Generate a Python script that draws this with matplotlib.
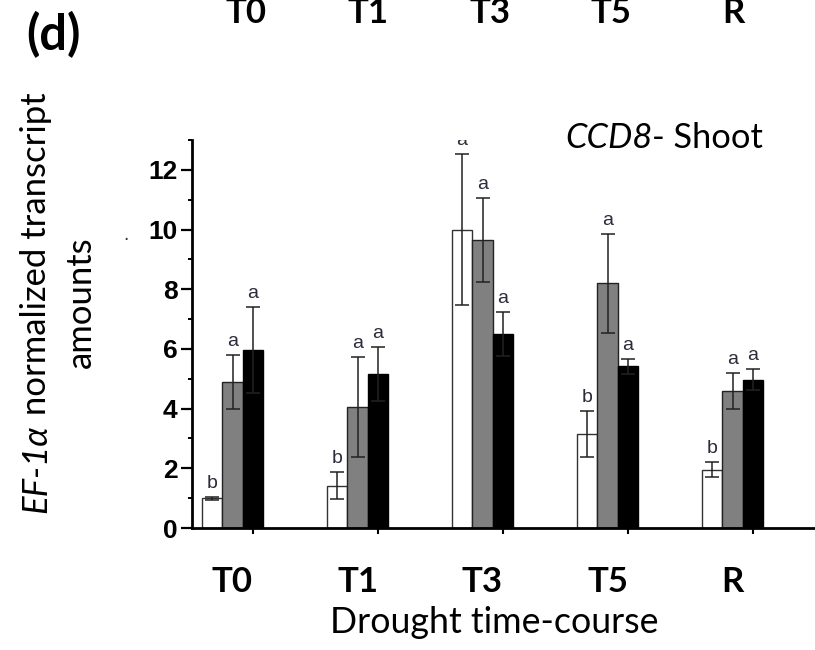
import matplotlib
matplotlib.use("Agg")
import matplotlib.pyplot as plt
from matplotlib.ticker import MultipleLocator, FixedLocator

# ---- data ----
categories = ["T0", "T1", "T3", "T5", "R"]
white_vals = [1.0, 1.42, 10.0, 3.15, 1.95]
white_err = [0.05, 0.45, 2.53, 0.78, 0.25]
gray_vals = [4.9, 4.06, 9.65, 8.2, 4.58]
gray_err = [0.9, 1.67, 1.4, 1.65, 0.6]
black_vals = [5.97, 5.16, 6.5, 5.42, 4.97]
black_err = [1.45, 0.92, 0.75, 0.25, 0.35]
white_letters = ["b", "b", "a", "b", "b"]
gray_letters = ["a", "a", "a", "a", "a"]
black_letters = ["a", "a", "a", "a", "a"]
y_ticks = [0, 2, 4, 6, 8, 10, 12]

W, H = 815, 650
DPI = 100
fig = plt.figure(figsize=(W / DPI, H / DPI), dpi=DPI)
fig.patch.set_facecolor("white")
renderer = fig.canvas.get_renderer()

BODY = "Lato"
NUM = "Liberation Sans"

ax = fig.add_axes([192 / W, 122 / H, (W - 192) / W, 388 / H])
bw = 0.164
xs = list(range(len(categories)))
x_white = [x - 2 * bw for x in xs]
x_gray = [x - bw for x in xs]
x_black = xs

ekw = dict(ecolor="#222222", elinewidth=1.1, capsize=5, capthick=1.1)
ax.bar(x_white, white_vals, bw, color="white", edgecolor="#333333", linewidth=1.0,
       yerr=white_err, error_kw=ekw, zorder=2)
ax.bar(x_gray, gray_vals, bw, color="#808080", edgecolor="#222222", linewidth=1.0,
       yerr=gray_err, error_kw=ekw, zorder=2)
ax.bar(x_black, black_vals, bw, color="black", edgecolor="black", linewidth=1.0,
       yerr=black_err, error_kw=ekw, zorder=2)

lcol = "#2c2c3c"
for xp, v, e, l in [(x_white, white_vals, white_err, white_letters),
                    (x_gray, gray_vals, gray_err, gray_letters),
                    (x_black, black_vals, black_err, black_letters)]:
    for xi, vi, ei, li in zip(xp, v, e, l):
        ax.text(xi, vi + ei + 0.3, li, ha="center", va="baseline", fontsize=14,
                family=NUM, color=lcol, clip_on=True, zorder=3)

ax.set_xlim(-0.488, 4.496)
ax.set_ylim(0, 13)
ax.set_yticks(y_ticks)
ax.yaxis.set_minor_locator(MultipleLocator(1))
ax.set_yticklabels([str(t) for t in y_ticks], fontsize=19, fontweight="bold", family=NUM)
ax.tick_params(axis="y", which="major", direction="out", length=8, width=1.6, pad=2.5)
ax.tick_params(axis="y", which="minor", direction="out", length=3, width=1.4)
ax.set_xticks(x_black)
ax.set_xticklabels([])
ax.tick_params(axis="x", which="major", direction="out", length=4.5, width=1.5)
ax.xaxis.set_minor_locator(FixedLocator(x_gray))
ax.set_xticklabels(categories, minor=True, fontsize=25, fontweight="bold", family=BODY)
ax.tick_params(axis="x", which="minor", length=0, pad=27)
for s in ["top", "right"]:
    ax.spines[s].set_visible(False)
ax.spines["left"].set_linewidth(2.0)
ax.spines["bottom"].set_linewidth(2.0)
ax.set_facecolor("none")


def fit(t, target, vertical=False):
    bb = t.get_window_extent(renderer)
    cur = bb.height if vertical else bb.width
    t.set_fontsize(t.get_fontsize() * target / cur)


# x axis title
t = fig.text(494 / W, 17 / H, "Drought time-course", ha="center", va="baseline",
             family=BODY, fontsize=22)
fit(t, 328)

# title inside panel: CCD8- Shoot
t1 = fig.text(565 / W, 502 / H, "CCD8", ha="left", va="baseline", family=BODY,
              style="italic", fontsize=22)
t2 = fig.text(565 / W, 502 / H, "- Shoot", ha="left", va="baseline", family=BODY, fontsize=22)
w_tot = t1.get_window_extent(renderer).width + t2.get_window_extent(renderer).width
k = 197 / w_tot
t1.set_fontsize(22 * k)
t2.set_fontsize(22 * k)
w1 = t1.get_window_extent(renderer).width
t2.set_x((565 + w1) / W)

# y label, line 1 (mixed italic)
y1 = fig.text(36 / W, 137 / H, "EF-1\u03b1", rotation=90, rotation_mode="anchor",
              ha="left", va="center", family=BODY, style="italic", fontsize=22)
y2 = fig.text(36 / W, 137 / H, " normalized transcript", rotation=90, rotation_mode="anchor",
              ha="left", va="center", family=BODY, fontsize=22)
h_tot = y1.get_window_extent(renderer).height + y2.get_window_extent(renderer).height
k = 418 / h_tot
y1.set_fontsize(22 * k)
y2.set_fontsize(22 * k)
h1 = y1.get_window_extent(renderer).height
y2.set_y((137 + h1) / H)
# y label, line 2
y3 = fig.text(81 / W, 347.5 / H, "amounts", rotation=90, ha="center", va="center",
              family=BODY, fontsize=22 * k)

# panel letter
fig.text(53 / W, 615 / H, "(d)", ha="center", va="center", family=BODY,
         fontweight="bold", fontsize=35)

# cropped labels of panel above
for i, c in enumerate(categories):
    fig.text((246 + i * 121.8) / W, 627 / H, c, ha="center", va="baseline",
             family=BODY, fontweight="bold", fontsize=25)

# stray dot
fig.text(126 / W, 415 / H, ".", ha="center", va="center", fontsize=12, color="#333333")

fig.savefig("out.png", dpi=DPI, facecolor="white")
